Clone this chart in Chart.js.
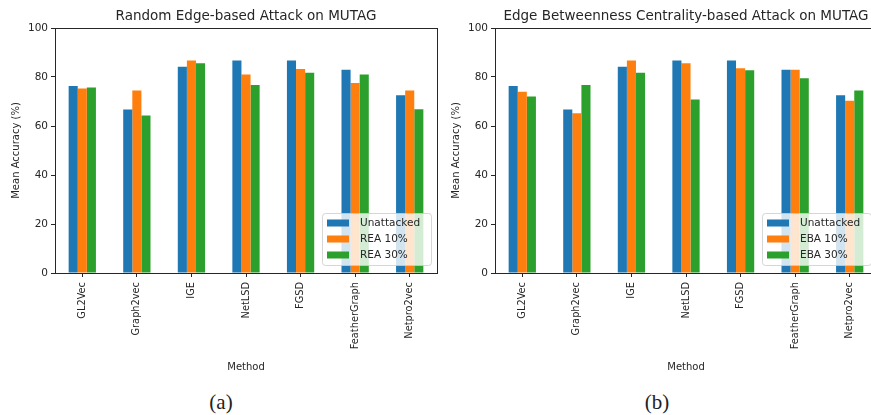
<!DOCTYPE html>
<html>
<head>
<meta charset="utf-8">
<script src="https://cdn.jsdelivr.net/npm/chart.js@4.4.1/dist/chart.umd.min.js"></script>
<style>
  html, body { margin: 0; padding: 0; background: #fff; overflow: hidden; }
  body { width: 871px; height: 415px; position: relative; }
  .panel { position: absolute; top: 0; width: 440px; height: 380px; }
  .caption { position: absolute; top: 390px; width: 60px; text-align: center; line-height: 24px;
             font-family: "Liberation Serif", "DejaVu Serif", serif; font-size: 21px; color: #222; }
</style>
</head>
<body>
<div class="panel" style="left:0"><canvas id="chartA" width="440" height="380"></canvas></div>
<div class="panel" style="left:440px"><canvas id="chartB" width="440" height="380"></canvas></div>
<div class="caption" style="left:191px">(a)</div>
<div class="caption" style="left:627px">(b)</div>
<script>
// Methods evaluated on MUTAG
const methods = ['GL2Vec', 'Graph2vec', 'IGE', 'NetLSD', 'FGSD', 'FeatherGraph', 'Netpro2vec'];
const yTicks = [0, 20, 40, 60, 80, 100];

// Mean accuracy (%) without any attack
const unattacked = [76.3, 66.7, 84.2, 86.7, 86.7, 83.0, 72.6];
// Random edge-based attack
const rea10 = [75.3, 74.5, 86.7, 81.0, 83.3, 77.6, 74.5];
const rea30 = [75.7, 64.3, 85.6, 76.7, 81.7, 81.0, 66.8];
// Edge betweenness centrality-based attack
const eba10 = [74.0, 65.2, 86.7, 85.6, 83.6, 83.0, 70.3];
const eba30 = [72.0, 76.7, 81.7, 70.8, 82.8, 79.5, 74.5];

const BLUE = '#1f77b4', ORANGE = '#ff7f0e', GREEN = '#2ca02c';
const FONT = 'DejaVu Sans';
const INK = '#262626';

// Axes frame on all four sides
const framePlugin = {
  id: 'frame',
  afterDatasetsDraw(chart) {
    const { ctx, chartArea: a } = chart;
    ctx.save();
    ctx.strokeStyle = INK;
    ctx.lineWidth = 1;
    ctx.strokeRect(Math.round(a.left) + 0.5, Math.round(a.top) + 0.5,
                   Math.round(a.right - a.left), Math.round(a.bottom - a.top));
    ctx.restore();
  }
};

// Title centred over the plotting area
const axesTitle = {
  id: 'axesTitle',
  afterDraw(chart, args, opts) {
    const { ctx, chartArea: a } = chart;
    ctx.save();
    ctx.font = '13.5px "' + FONT + '"';
    ctx.fillStyle = INK;
    ctx.textAlign = 'center';
    ctx.textBaseline = 'middle';
    ctx.fillText(opts.text, (a.left + a.right) / 2, a.top - 12);
    ctx.restore();
  }
};

// Legend drawn inside the plot, lower right corner
const innerLegend = {
  id: 'innerLegend',
  afterDraw(chart) {
    const { ctx, chartArea: a } = chart;
    const w = 109, h = 52;
    const x = a.right - 6 - w, y = a.bottom - 8 - h;
    ctx.save();
    ctx.fillStyle = 'rgba(255,255,255,0.8)';
    ctx.strokeStyle = 'rgba(204,204,204,0.8)';
    ctx.lineWidth = 1;
    ctx.beginPath();
    ctx.roundRect(x + 0.5, y + 0.5, w, h, 3);
    ctx.fill();
    ctx.stroke();
    ctx.font = '10.5px "' + FONT + '"';
    ctx.textBaseline = 'middle';
    chart.data.datasets.forEach((ds, i) => {
      const cy = y + 10 + i * 16;
      ctx.fillStyle = ds.backgroundColor;
      ctx.fillRect(x + 5, cy - 3.5, 22, 7);
      ctx.fillStyle = INK;
      ctx.fillText(ds.label, x + 38, cy + 0.5);
    });
    ctx.restore();
  }
};

function makeChart(id, title, labels, series) {
  return new Chart(document.getElementById(id), {
    type: 'bar',
    data: {
      labels: methods,
      datasets: series.map((vals, i) => ({
        label: labels[i],
        data: vals,
        backgroundColor: [BLUE, ORANGE, GREEN][i],
        borderWidth: 0,
        categoryPercentage: 0.5,
        barPercentage: 1.0
      }))
    },
    options: {
      responsive: false,
      animation: false,
      layout: { padding: { left: 0, right: 3, top: 28, bottom: 0 } },
      plugins: {
        legend: { display: false },
        tooltip: { enabled: false },
        title: { display: false },
        axesTitle: { text: title }
      },
      scales: {
        x: {
          border: { display: false },
          grid: { offset: false, drawOnChartArea: false, drawTicks: true, tickLength: 4, color: INK },
          ticks: {
            color: INK, font: { family: FONT, size: 9.8 },
            minRotation: 90, maxRotation: 90, autoSkip: false, padding: 5
          },
          title: {
            display: true, text: 'Method', color: INK,
            font: { family: FONT, size: 10 }, padding: { top: 4, bottom: 7 }
          },
          afterFit(s) { s.height = 107; }
        },
        y: {
          min: 0, max: 100,
          border: { display: false },
          grid: { drawOnChartArea: false, drawTicks: true, tickLength: 4, color: INK },
          afterBuildTicks(s) { s.ticks = yTicks.map(v => ({ value: v })); },
          ticks: { color: INK, font: { family: FONT, size: 10.5 }, padding: 3 },
          title: {
            display: true, text: 'Mean Accuracy (%)', color: INK,
            font: { family: FONT, size: 10 }, padding: { top: 10, bottom: 0 }
          },
          afterFit(s) { s.width = 55; }
        }
      }
    },
    plugins: [framePlugin, axesTitle, innerLegend]
  });
}

makeChart('chartA', 'Random Edge-based Attack on MUTAG',
  ['Unattacked', 'REA 10%', 'REA 30%'], [unattacked, rea10, rea30]);
makeChart('chartB', 'Edge Betweenness Centrality-based Attack on MUTAG',
  ['Unattacked', 'EBA 10%', 'EBA 30%'], [unattacked, eba10, eba30]);
</script>
</body>
</html>
